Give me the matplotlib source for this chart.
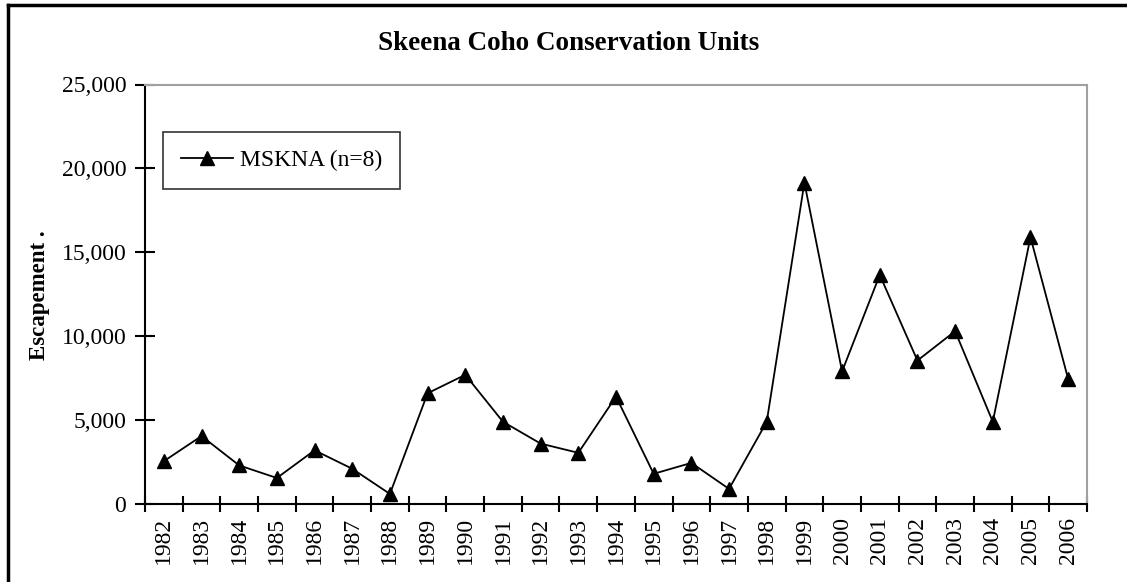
import numpy as np
import matplotlib
matplotlib.use("Agg")
import matplotlib.pyplot as plt
from matplotlib.ticker import FuncFormatter, FixedLocator

# %% Data
years = [str(y) for y in range(1982, 2007)]
escapement = [2550, 4050, 2300, 1550, 3200, 2100, 600, 6600, 7700, 4900,
              3600, 3050, 6400, 1800, 2450, 900, 4900, 19150, 7900, 13650,
              8550, 10300, 4900, 15900, 7450]
y_ticks = [0, 5000, 10000, 15000, 20000, 25000]
series_label = "MSKNA (n=8)"
title = "Skeena Coho Conservation Units"

plt.rcParams["font.family"] = ["Liberation Serif", "DejaVu Serif"]

# %% Figure
W, H = 1127, 582
fig = plt.figure(figsize=(W / 100, H / 100), dpi=100)
ax = fig.add_axes([145 / W, 1 - 504 / H, (1087 - 145) / W, (504 - 84.5) / H])

x = np.arange(len(years))
ax.plot(x, escapement, color="black", lw=1.3, marker="^", ms=10,
        markerfacecolor="black", markeredgecolor="black", label=series_label)

ax.set_xlim(-0.5, len(years) - 0.5)
ax.set_ylim(0, 25000)
ax.set_yticks(y_ticks)
ax.yaxis.set_major_formatter(FuncFormatter(lambda v, p: f"{int(v):,}"))

ax.set_xticks(x)
ax.set_xticklabels(years, rotation=90)
ax.xaxis.set_minor_locator(FixedLocator(np.arange(-0.5, len(years), 1.0)))
ax.tick_params(axis="x", which="major", length=0, pad=9, labelsize=17)
ax.tick_params(axis="x", which="minor", direction="inout", length=12, width=1.5)
ax.tick_params(axis="y", direction="inout", length=15, width=1.5, pad=6, labelsize=17)

for s in ["left", "bottom"]:
    ax.spines[s].set_linewidth(1.5)
    ax.spines[s].set_color("black")
for s in ["top", "right"]:
    ax.spines[s].set_linewidth(1.5)
    ax.spines[s].set_color("#a0a0a0")

fig.text(40 / W, 1 - 295 / H, "Escapement .", rotation=90, fontsize=16.5,
         fontweight="bold", ha="center", va="center")

fig.text(569 / W, 1 - 44 / H, title, fontsize=19.5, fontweight="bold",
         ha="center", va="center")

leg = ax.legend(loc="upper left", bbox_to_anchor=((163 - 145) / 942, (504 - 132) / 419.5),
                fontsize=17, frameon=True, fancybox=False, borderpad=0.75,
                handlelength=2.2, handletextpad=0.3, borderaxespad=0)
leg.get_frame().set_edgecolor("black")
leg.get_frame().set_linewidth(1.2)

# outer chart border (left and top visible)
fig.add_artist(plt.Line2D([8 / W, 8 / W], [0, 1 - 5 / H], color="black", lw=2.5,
                          transform=fig.transFigure))
fig.add_artist(plt.Line2D([8 / W, 1], [1 - 5 / H, 1 - 5 / H], color="black", lw=2.5,
                          transform=fig.transFigure))

fig.savefig("out.png", dpi=100)
